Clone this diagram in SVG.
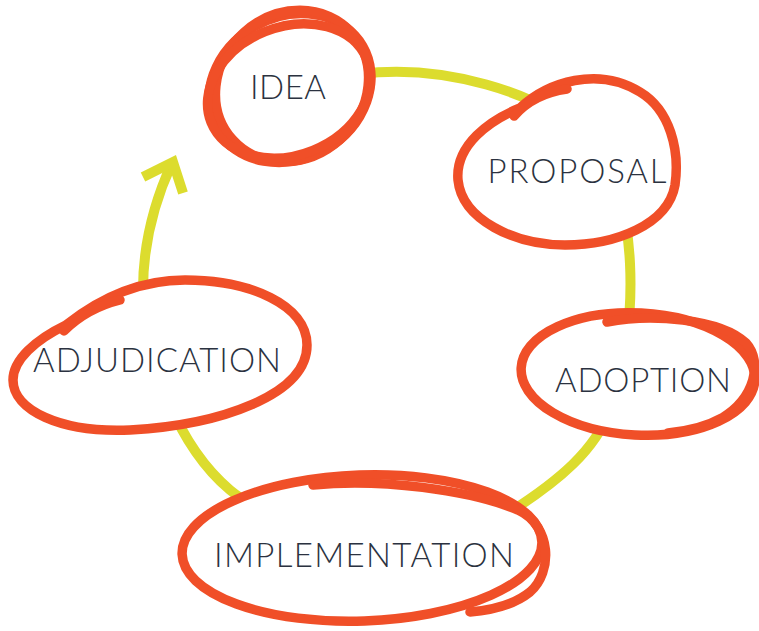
<svg xmlns="http://www.w3.org/2000/svg" width="759" height="631" viewBox="0 0 759 631">
<style>
.o{fill:none;stroke:#F04F28;stroke-width:9.5;stroke-linecap:round;stroke-linejoin:round}
.bg{fill:#fff;stroke:#F04F28;stroke-width:9.5;stroke-linejoin:round}
.y{fill:none;stroke:#DCDC2E;stroke-width:10;stroke-linejoin:miter}
.t{font-family:Lato,"Liberation Sans",sans-serif;font-weight:300;font-size:33px;fill:#2B3240;text-anchor:middle}
</style>
<rect width="759" height="631" fill="#fff"/>
<g id="connectors">
<path class="y" d="M 360 74 C 440 64, 540 90, 590 140 C 640 190, 640 330, 610 410 C 595 450, 560 480, 510 512 C 440 556, 290 540, 230 490 C 180 448, 143 360, 143 290 C 143 240, 155 200, 172 163"/>
<polyline class="y" points="143,177 173,162 183,193"/>
</g>
<g id="idea">
<ellipse class="bg" cx="290" cy="88" rx="84" ry="71" transform="rotate(-30 290 88)"/>
<ellipse class="o" cx="292" cy="86" rx="80" ry="72" transform="rotate(-42 292 86)"/>
<ellipse class="o" cx="289" cy="91" rx="84" ry="64" transform="rotate(-22 289 91)"/>
<text class="t" x="288" y="99" textLength="76">IDEA</text>
</g>
<g id="proposal">
<path class="bg" d="M 520 108 C 548 82, 598 66, 640 92 C 670 110, 680 150, 675 185 C 668 225, 615 245, 565 245 C 515 245, 462 220, 458 180 C 455 145, 490 120, 520 108 Z"/>
<path class="o" d="M 514 116 C 528 100, 545 92, 567 89"/>
<text class="t" x="577" y="183" textLength="179">PROPOSAL</text>
</g>
<g id="adoption">
<ellipse class="bg" cx="638" cy="374" rx="117" ry="61" transform="rotate(3 638 374)"/>
<path class="o" d="M 607 322 C 650 314, 720 318, 746 343 C 763 362, 755 398, 722 418 C 706 427, 690 431, 668 433"/>
<text class="t" x="643" y="392" textLength="176">ADOPTION</text>
</g>
<g id="implementation">
<ellipse class="bg" cx="362" cy="548" rx="180" ry="73" transform="rotate(-2 362 548)"/>
<path class="o" d="M 313 485 C 380 478, 470 490, 518 510 C 552 526, 553 572, 530 592 C 515 604, 495 610, 470 612"/>
<text class="t" x="364" y="567" textLength="300">IMPLEMENTATION</text>
</g>
<g id="adjudication">
<path class="bg" d="M 66 325 C 100 298, 140 280, 185 280 C 250 280, 307 305, 307 345 C 307 395, 220 425, 130 430 C 60 433, 13 410, 13 380 C 13 360, 35 340, 66 325 Z"/>
<path class="o" d="M 64 331 C 80 315, 100 305, 120 300"/>
<text class="t" x="157" y="372" textLength="248">ADJUDICATION</text>
</g>
</svg>
